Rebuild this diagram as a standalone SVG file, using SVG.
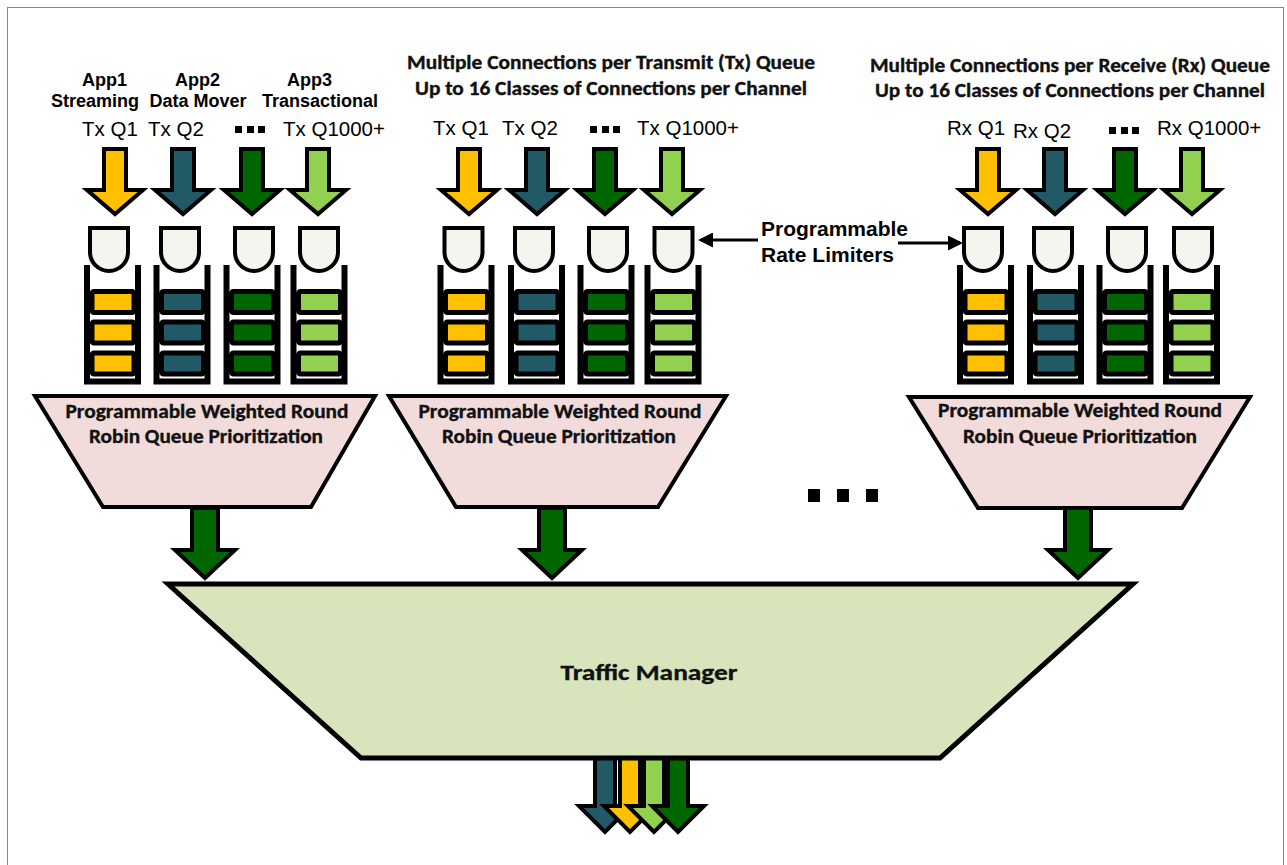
<svg xmlns="http://www.w3.org/2000/svg" xmlns:xlink="http://www.w3.org/1999/xlink" width="1287" height="865" viewBox="0 0 1287 865">
<style>
.app{font-family:"Liberation Sans",Arial,sans-serif;font-weight:bold;font-size:18px;text-anchor:middle;fill:#000}
.q{font-family:"Liberation Sans",Arial,sans-serif;font-size:20.5px;fill:#000}
.rl{font-family:"Liberation Sans",Arial,sans-serif;font-weight:bold;font-size:21px;fill:#000}
.cal{font-family:Carlito,Lato,"Open Sans",sans-serif;font-weight:bold;text-anchor:middle;fill:#111;stroke:#111;stroke-width:0.35}
.t19{font-size:19.5px}
.t21{font-size:22px}
.trap{fill:#F2DCDB;stroke:#000;stroke-width:4;stroke-linejoin:miter}
.big{fill:#006600;stroke:#000;stroke-width:4}
.dot{fill:#000}
.lead{stroke:#000;stroke-width:3;fill:none}
</style>
<defs>
  <path id="arr" d="M-11 149 H11 V190 H28 L0 214 L-28 190 H-11 Z" stroke="#000" stroke-width="4" stroke-linejoin="miter"/>
  <path id="lim" d="M-19 228 H19 V252 A19 19 0 0 1 -19 252 Z" fill="#F5F5F0" stroke="#000" stroke-width="4"/>
  <g id="queue">
    <path d="M-25.5 265 V381.5 H25.5 V265" fill="none" stroke="#000" stroke-width="6"/>
    <rect x="-20.5" y="291.5" width="42" height="21" rx="2" stroke="#000" stroke-width="5"/>
    <rect x="-20.5" y="322" width="42" height="21" rx="2" stroke="#000" stroke-width="5"/>
    <rect x="-20.5" y="353" width="42" height="21" rx="2" stroke="#000" stroke-width="5"/>
  </g>
  <path id="bigarr" d="M-13 508 H13 V550 H30 L0 578 L-30 550 H-13 Z"/>
  <path id="outarr" d="M-10 757 H10 V806 H26 L0 832 L-26 806 H-10 Z" stroke="#000" stroke-width="4"/>
  <marker id="ah" markerWidth="5" markerHeight="5" refX="4" refY="2.5" orient="auto" markerUnits="strokeWidth">
    <path d="M0 0 L5 2.5 L0 5 Z" fill="#000"/>
  </marker>
</defs>

<rect x="7.5" y="7.5" width="1276" height="870" fill="#fff" stroke="#888" stroke-width="1"/>

<!-- Left group: apps -->
<g id="left-labels">
  <text class="app" x="104.5" y="86">App1</text>
  <text class="app" x="95" y="107">Streaming</text>
  <text class="app" x="197.5" y="86">App2</text>
  <text class="app" x="198" y="107">Data Mover</text>
  <text class="app" x="309.5" y="86">App3</text>
  <text class="app" x="320" y="107">Transactional</text>
  <text class="q" x="82" y="136">Tx Q1</text>
  <text class="q" x="148" y="136">Tx Q2</text>
  <rect class="dot" x="235" y="126" width="7" height="7"/>
  <rect class="dot" x="247" y="126" width="7" height="7"/>
  <rect class="dot" x="258" y="126" width="7" height="7"/>
  <text class="q" x="283" y="136">Tx Q1000+</text>
</g>
<g id="left-q1"><use href="#arr" x="115" fill="#FFC000"/><use href="#lim" x="109"/><use href="#queue" x="112.5" fill="#FFC000"/></g>
<g id="left-q2"><use href="#arr" x="183" fill="#215967"/><use href="#lim" x="180"/><use href="#queue" x="182" fill="#215967"/></g>
<g id="left-q3"><use href="#arr" x="252" fill="#006600"/><use href="#lim" x="254"/><use href="#queue" x="252" fill="#006600"/></g>
<g id="left-q4"><use href="#arr" x="318" fill="#92D050"/><use href="#lim" x="319"/><use href="#queue" x="319" fill="#92D050"/></g>
<g id="left-wrr">
  <polygon class="trap" points="35,396 375,396 311,507 103,507"/>
  <text class="cal t19" x="207" y="418" textLength="283" lengthAdjust="spacingAndGlyphs">Programmable Weighted Round</text>
  <text class="cal t19" x="206" y="443" textLength="234" lengthAdjust="spacingAndGlyphs">Robin Queue Prioritization</text>
</g>

<!-- Middle group -->
<g id="mid-labels">
  <text class="cal t19" x="611" y="69" textLength="408" lengthAdjust="spacingAndGlyphs">Multiple Connections per Transmit (Tx) Queue</text>
  <text class="cal t19" x="611" y="95" textLength="392" lengthAdjust="spacingAndGlyphs">Up to 16 Classes of Connections per Channel</text>
  <text class="q" x="433" y="135">Tx Q1</text>
  <text class="q" x="502" y="135">Tx Q2</text>
  <rect class="dot" x="590" y="126" width="7" height="7"/>
  <rect class="dot" x="602" y="126" width="7" height="7"/>
  <rect class="dot" x="613" y="126" width="7" height="7"/>
  <text class="q" x="637" y="135">Tx Q1000+</text>
</g>
<g id="mid-q1"><use href="#arr" x="469" fill="#FFC000"/><use href="#lim" x="463.5"/><use href="#queue" x="466" fill="#FFC000"/></g>
<g id="mid-q2"><use href="#arr" x="537" fill="#215967"/><use href="#lim" x="534"/><use href="#queue" x="536.5" fill="#215967"/></g>
<g id="mid-q3"><use href="#arr" x="605" fill="#006600"/><use href="#lim" x="608"/><use href="#queue" x="606" fill="#006600"/></g>
<g id="mid-q4"><use href="#arr" x="672" fill="#92D050"/><use href="#lim" x="673.5"/><use href="#queue" x="673" fill="#92D050"/></g>
<g id="mid-wrr">
  <polygon class="trap" points="389,396 726,396 658,507 456,507"/>
  <text class="cal t19" x="560" y="418" textLength="283" lengthAdjust="spacingAndGlyphs">Programmable Weighted Round</text>
  <text class="cal t19" x="559" y="443" textLength="234" lengthAdjust="spacingAndGlyphs">Robin Queue Prioritization</text>
</g>

<!-- Right group -->
<g id="right-labels">
  <text class="cal t19" x="1070" y="72" textLength="400" lengthAdjust="spacingAndGlyphs">Multiple Connections per Receive (Rx) Queue</text>
  <text class="cal t19" x="1070" y="97" textLength="390" lengthAdjust="spacingAndGlyphs">Up to 16 Classes of Connections per Channel</text>
  <text class="q" x="947" y="135">Rx Q1</text>
  <text class="q" x="1013" y="138">Rx Q2</text>
  <rect class="dot" x="1109" y="127" width="7" height="7"/>
  <rect class="dot" x="1121" y="127" width="7" height="7"/>
  <rect class="dot" x="1132" y="127" width="7" height="7"/>
  <text class="q" x="1157" y="135">Rx Q1000+</text>
</g>
<g id="right-q1"><use href="#arr" x="988" fill="#FFC000"/><use href="#lim" x="983"/><use href="#queue" x="985.5" fill="#FFC000"/></g>
<g id="right-q2"><use href="#arr" x="1055" fill="#215967"/><use href="#lim" x="1053"/><use href="#queue" x="1055.5" fill="#215967"/></g>
<g id="right-q3"><use href="#arr" x="1125" fill="#006600"/><use href="#lim" x="1127"/><use href="#queue" x="1125" fill="#006600"/></g>
<g id="right-q4"><use href="#arr" x="1192" fill="#92D050"/><use href="#lim" x="1193"/><use href="#queue" x="1191.5" fill="#92D050"/></g>
<g id="right-wrr">
  <polygon class="trap" points="909,397 1250,397 1182,508 978,508"/>
  <text class="cal t19" x="1080" y="417" textLength="284" lengthAdjust="spacingAndGlyphs">Programmable Weighted Round</text>
  <text class="cal t19" x="1080" y="443" textLength="234" lengthAdjust="spacingAndGlyphs">Robin Queue Prioritization</text>
</g>

<!-- Rate limiter callout -->
<g id="rate-limiters">
  <text class="rl" x="761" y="236">Programmable</text>
  <text class="rl" x="761" y="262">Rate Limiters</text>
</g>

<!-- ellipsis -->
<g id="ellipsis">
  <rect class="dot" x="808" y="489" width="12" height="13"/>
  <rect class="dot" x="837" y="489" width="12" height="13"/>
  <rect class="dot" x="866" y="489" width="12" height="13"/>
</g>

<!-- connectors -->
<g id="connectors">
  <line class="lead" x1="758" y1="240" x2="701" y2="240" marker-end="url(#ah)"/>
  <line class="lead" x1="898" y1="243" x2="960" y2="243" marker-end="url(#ah)"/>
  <use href="#bigarr" x="205" class="big"/>
  <use href="#bigarr" x="552" class="big"/>
  <use href="#bigarr" x="1078" class="big"/>
  <use href="#outarr" x="605" fill="#215967"/>
  <use href="#outarr" x="630" fill="#FFC000"/>
  <use href="#outarr" x="654" fill="#92D050"/>
  <use href="#outarr" x="678" fill="#006600"/>
</g>

<!-- Traffic manager -->
<g id="traffic-manager">
  <polygon points="168,584 1133,584 940,758 361,758" fill="#D8E4BC" stroke="#000" stroke-width="5"/>
  <text class="cal t21" x="649" y="680" textLength="177" lengthAdjust="spacingAndGlyphs">Traffic Manager</text>
</g>
</svg>
